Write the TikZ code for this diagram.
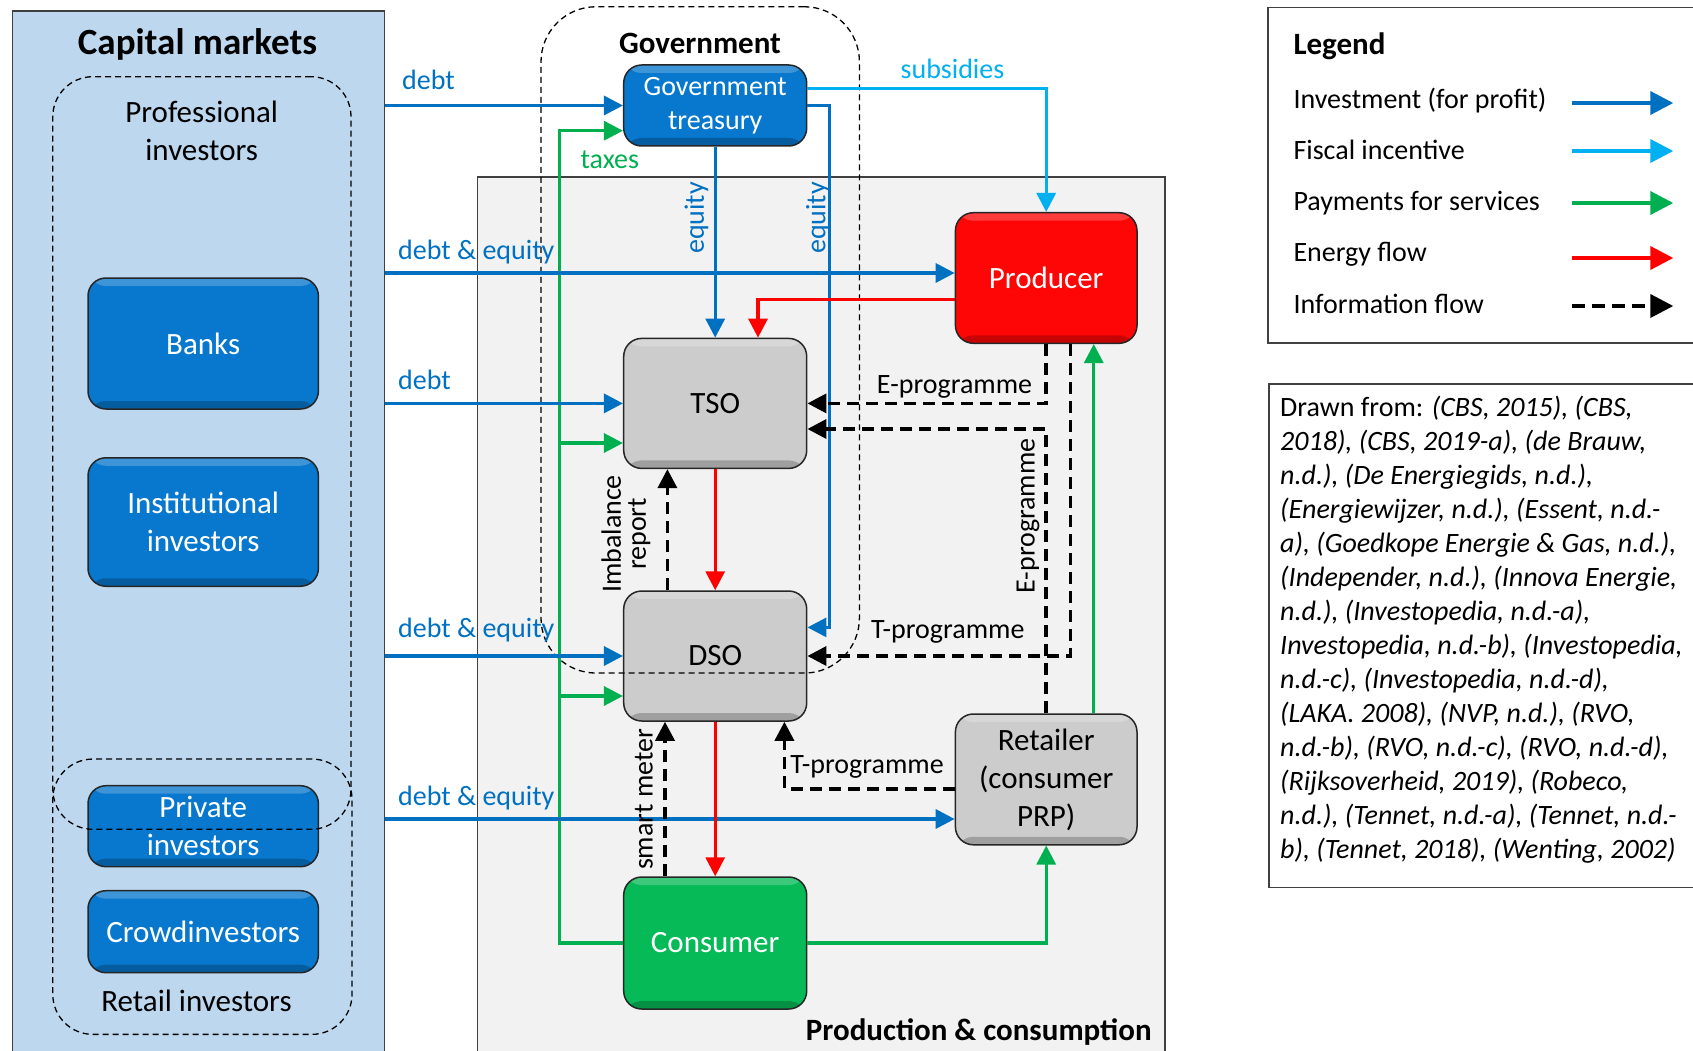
\documentclass[tikz,border=0pt]{standalone}
\usepackage{fontspec}
\setmainfont{Carlito}
\usetikzlibrary{arrows.meta,calc}

\definecolor{cmfill}{HTML}{BDD7EE}
\definecolor{invblue}{HTML}{0070C0}
\definecolor{fiscal}{HTML}{00B0F0}
\definecolor{paygreen}{HTML}{00B050}
\definecolor{boxblue}{HTML}{0778CE}
\definecolor{boxgray}{HTML}{CCCCCC}
\definecolor{boxgreen}{HTML}{07BA58}
\definecolor{boxred}{HTML}{FF0606}
\definecolor{regiongray}{HTML}{F2F2F2}
\definecolor{edgegray}{HTML}{404040}

\newcommand{\fsz}[2]{\fontsize{#1pt}{#2pt}\selectfont}

\tikzset{
  actor/.style={rounded corners=18pt, draw=black!85, line width=1.5pt,
    minimum width=183pt, minimum height=130pt, inner sep=0pt, align=center,
    font=\fsz{31}{38},
    path picture={
      \fill[white,opacity=.22] (path picture bounding box.north west)
        rectangle ($(path picture bounding box.north east)+(0,8)$);
      \fill[black,opacity=.22] ($(path picture bounding box.south west)+(0,-8)$)
        rectangle (path picture bounding box.south east);}},
  bluebox/.style={actor, fill=boxblue, text=white},
  graybox/.style={actor, fill=boxgray, text=black},
  region/.style={draw=edgegray, line width=1.6pt, inner sep=0pt, anchor=north west},
  group/.style={draw=black, line width=1.3pt, dash pattern=on 6pt off 4pt,
    inner sep=0pt},
  conn/.style={line width=3.2pt, -{Triangle[length=19pt,width=19pt]}},
  inv/.style={conn, draw=invblue},
  fisc/.style={conn, draw=fiscal},
  pay/.style={conn, draw=paygreen},
  energy/.style={conn, draw=red},
  info/.style={conn, draw=black, line width=3.6pt, dash pattern=on 12pt off 7pt},
  lbl/.style={font=\fsz{28}{34}, inner sep=0pt},
  keyarrow/.style={line width=3.8pt, -{Triangle[length=23pt,width=23pt]}},
}

\begin{document}
\begin{tikzpicture}[x=1pt,y=-1pt]
\useasboundingbox (0,0) rectangle (1693,1051);

% background regions
\node[region, fill=cmfill, minimum width=372.3pt, minimum height=1060pt] (cm) at (11.5,10) {};
\node[region, fill=regiongray, minimum width=687.5pt, minimum height=900pt] (pc) at (476.8,176) {};
\node[region, minimum width=450pt, minimum height=335.6pt] (legend) at (1267.3,6.7) {};
\node[region, minimum width=450pt, minimum height=503.4pt] (sources) at (1268.3,383.3) {};

% titles
\node[font=\bfseries\fsz{37}{44}, inner sep=0pt, anchor=base] (cmtitle) at (197.5,54.5) {Capital markets};
\node[font=\bfseries\fsz{31}{38}, inner sep=0pt, anchor=base] (govtitle) at (700,53.5) {Government};
\node[font=\bfseries\fsz{31}{38}, inner sep=0pt, anchor=base east] (pctitle) at (1151.8,1040) {Production \& consumption};
\node[font=\fsz{31}{38}, inner sep=0pt, align=center] (proftitle) at (201.7,131) {Professional\\investors};
\node[font=\fsz{31}{38}, inner sep=0pt, anchor=base] (rettitle) at (196.5,1011.7) {Retail investors};

% investors
\node[bluebox, minimum width=230.4pt, minimum height=131pt] (banks) at (203.2,343.5) {Banks};
\node[bluebox, minimum width=230.4pt, minimum height=128.5pt] (inst) at (203.2,522) {Institutional\\investors};
\node[bluebox, minimum width=230.4pt, minimum height=81pt] (priv) at (203.2,826.2) {Private\\investors};
\node[bluebox, minimum width=230.4pt, minimum height=82pt] (crowd) at (203.2,931.7) {Crowdinvestors};

% government and market parties
\node[bluebox, minimum height=81pt, font=\fsz{28}{34}] (treas) at (715.2,105.5) {\raisebox{-3pt}{Government}\\\raisebox{-3pt}{treasury}};
\node[graybox] (tso) at (715.2,403.4) {TSO};
\node[graybox] (dso) at (715.2,656) {DSO};
\node[actor, fill=boxgreen, text=white, minimum height=132pt] (cons) at (715.2,943) {Consumer};
\node[actor, fill=boxred, text=white, minimum width=181.6pt, minimum height=130.6pt] (prod) at (1046.2,278) {Producer};
\node[graybox, minimum width=181.6pt, minimum height=130.8pt] (ret) at (1046.2,779.4) {Retailer\\(consumer\\PRP)};

% dashed groupings
\node[group, rounded corners=40pt, minimum width=298.2pt, minimum height=752.6pt] (profgrp) at (201.9,453) {};
\node[group, rounded corners=40pt, minimum width=299.2pt, minimum height=275.3pt] (retgrp) at (202.4,896.7) {};
\node[group, rounded corners=55pt, minimum width=318.4pt, minimum height=666.3pt] (govgrp) at (700.2,339.9) {};

% routing points
\coordinate (tax) at (559.5,130.7);
\coordinate (taxtso) at (559.5,443);
\coordinate (taxdso) at (559.5,696);
\coordinate (lvprod) at (0,273);
\coordinate (lvret) at (0,819);
\coordinate (eqtwo) at (829.5,627.4);
\coordinate (lvsub) at (0,88.3);
\coordinate (redbend) at (758,299.3);
\coordinate (lvetwo) at (0,429);
\coordinate (tone) at (1070.5,0);
\coordinate (ximb) at (667.4,0);
\coordinate (xsm) at (665,0);
\coordinate (ttwo) at (784.4,788.8);
\coordinate (xgr) at (1093.75,0);

% payments
\draw[pay] (cons.west) -| (tax) -- (treas.west |- tax);
\draw[pay] (taxtso) -- (tso.west |- taxtso);
\draw[pay] (taxdso) -- (dso.west |- taxdso);
\draw[pay] (cons.east) -| (ret.south);
\draw[pay] (ret.north -| xgr) -- (prod.south -| xgr);

% investments
\draw[inv] (cm.east |- treas.west) -- (treas.west);
\draw[inv] (cm.east |- lvprod) -- (prod.west |- lvprod);
\draw[inv] (cm.east |- tso.west) -- (tso.west);
\draw[inv] (cm.east |- dso.west) -- (dso.west);
\draw[inv] (cm.east |- lvret) -- (ret.west |- lvret);
\draw[inv] (treas.south) -- (tso.north);
\draw[inv] (treas.east) -| (eqtwo) -- (dso.east |- eqtwo);

% fiscal incentive
\draw[fisc] (treas.east |- lvsub) -| (prod.north);

% energy
\draw[energy] (prod.west |- redbend) -| (redbend |- tso.north);
\draw[energy] (tso.south) -- (dso.north);
\draw[energy] (dso.south) -- (cons.north);

% information
\draw[info] (prod.south) |- (tso.east);
\draw[info] (ret.north) |- (tso.east |- lvetwo);
\draw[info] (prod.south -| tone) |- (dso.east);
\draw[info] (dso.north -| ximb) -- (tso.south -| ximb);
\draw[info] (cons.north -| xsm) -- (dso.south -| xsm);
\draw[info] (ret.west |- ttwo) -| (dso.south -| ttwo);

% connector labels
\node[lbl, text=invblue, anchor=base west] (ldebtone) at (402,90) {debt};
\node[lbl, text=invblue, anchor=base west] (ldeone) at (398,259.3) {debt \& equity};
\node[lbl, text=invblue, anchor=base west] (ldebttwo) at (398,389.3) {debt};
\node[lbl, text=invblue, anchor=base west] (ldetwo) at (398,637.3) {debt \& equity};
\node[lbl, text=invblue, anchor=base west] (ldethree) at (398,805) {debt \& equity};
\node[lbl, text=paygreen, anchor=base] (ltax) at (609.8,168) {taxes};
\node[lbl, text=fiscal, anchor=base] (lsub) at (952.5,78.5) {subsidies};
\node[lbl, text=invblue, rotate=90] (leqone) at (696.4,218) {equity};
\node[lbl, text=invblue, rotate=90] (leqtwo) at (817.9,218) {equity};
\node[lbl, anchor=base] (leone) at (954.5,393.5) {E-programme};
\node[lbl, rotate=90] (letwo) at (1028,516) {E-programme};
\node[lbl, anchor=base] (ltone) at (947.8,638) {T-programme};
\node[lbl, anchor=base west] (lttwo) at (790.2,773.5) {T-programme};
\node[lbl, rotate=90, align=center, font=\fsz{28}{25}] (limb) at (626,534) {Imbalance\\report};
\node[lbl, rotate=90] (lsm) at (643.75,799.4) {smart meter};

% legend
\node[font=\bfseries\fsz{31}{38}, inner sep=0pt, anchor=base west] (legtitle) at (1293.3,54.5) {Legend};
\node[lbl, anchor=base west] (kinv) at (1293.3,108.3) {Investment (for profit)};
\node[lbl, anchor=base west] (kfis) at (1293.3,159.3) {Fiscal incentive};
\node[lbl, anchor=base west] (kpay) at (1293.3,210.7) {Payments for services};
\node[lbl, anchor=base west] (keng) at (1293.3,261.7) {Energy flow};
\node[lbl, anchor=base west] (kinf) at (1293.3,313.3) {Information flow};
\coordinate (kas) at (1571.7,103);  \coordinate (kae) at (1673.3,103);
\coordinate (kbs) at (1571.7,151);  \coordinate (kbe) at (1673.3,151);
\coordinate (kcs) at (1571.7,203);  \coordinate (kce) at (1673.3,203);
\coordinate (kds) at (1571.7,258);  \coordinate (kde) at (1673.3,258);
\coordinate (kes) at (1571.7,306);  \coordinate (kee) at (1673.3,306);
\draw[keyarrow, draw=invblue] (kas) -- (kae);
\draw[keyarrow, draw=fiscal] (kbs) -- (kbe);
\draw[keyarrow, draw=paygreen] (kcs) -- (kce);
\draw[keyarrow, draw=red] (kds) -- (kde);
\draw[keyarrow, draw=black, dash pattern=on 13pt off 7pt] (kes) -- (kee);

% sources
\node[font=\fsz{28}{34}, inner sep=0pt, anchor=north west, align=left] (srctext) at (1280,396) {%
Drawn from: \textit{(CBS, 2015), (CBS,}\\
\textit{2018), (CBS, 2019-a), (de Brauw,}\\
\textit{n.d.), (De Energiegids, n.d.),}\\
\textit{(Energiewijzer, n.d.), (Essent, n.d.-}\\
\textit{a), (Goedkope Energie \& Gas, n.d.),}\\
\textit{(Independer, n.d.), (Innova Energie,}\\
\textit{n.d.), (Investopedia, n.d.-a),}\\
\textit{Investopedia, n.d.-b), (Investopedia,}\\
\textit{n.d.-c), (Investopedia, n.d.-d),}\\
\textit{(LAKA. 2008), (NVP, n.d.), (RVO,}\\
\textit{n.d.-b), (RVO, n.d.-c), (RVO, n.d.-d),}\\
\textit{(Rijksoverheid, 2019), (Robeco,}\\
\textit{n.d.), (Tennet, n.d.-a), (Tennet, n.d.-}\\
\textit{b), (Tennet, 2018), (Wenting, 2002)}};
\end{tikzpicture}
\end{document}
